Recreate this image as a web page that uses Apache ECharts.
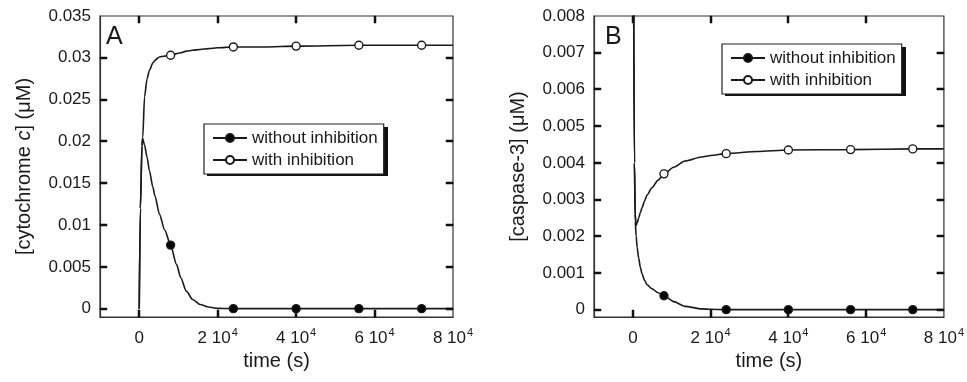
<!DOCTYPE html>
<html>
<head>
<meta charset="utf-8">
<script src="https://cdn.jsdelivr.net/npm/echarts@6/dist/echarts.min.js"></script>
<style>
html,body{margin:0;padding:0;background:#fff;}
#chart{width:967px;height:382px;}
</style>
</head>
<body>
<div id="chart"></div>
<script>
// ---- data ----
const seriesNames = ['without inhibition', 'with inhibition'];
const markerTimes = [8000, 24000, 40000, 56000, 72000];
const xTicks = [0, 20000, 40000, 60000, 80000];
const yTicksA = [0, 0.005, 0.01, 0.015, 0.02, 0.025, 0.03, 0.035];
const yTicksB = [0, 0.001, 0.002, 0.003, 0.004, 0.005, 0.006, 0.007, 0.008];

// Panel A: cytochrome c
const timeA = [0, 300, 700, 900, 1350, 2000, 2600, 3500, 4000, 5150, 6500, 8000, 9500, 10600, 12000, 13600, 15500, 17700, 20000, 24000, 32000, 40000, 56000, 72000, 80000];
const withoutA = [0, 0.012, 0.0195, 0.0203, 0.0196, 0.0181, 0.0165, 0.0145, 0.0135, 0.0113, 0.0094, 0.0076, 0.0053, 0.0037, 0.0021, 0.0011, 0.0005, 0.0002, 0.00003, 0, 0, 0, 0, 0, 0];
const withA = [0, 0.012, 0.0195, 0.0205, 0.0253, 0.0275, 0.0285, 0.0294, 0.0297, 0.0301, 0.0302, 0.0303, 0.0305, 0.0306, 0.0308, 0.0309, 0.0310, 0.0311, 0.0312, 0.0313, 0.0313, 0.0314, 0.0315, 0.0315, 0.0315];

// Panel B: caspase-3
const timeB = [200, 400, 600, 850, 1100, 1500, 1950, 2370, 3000, 3650, 4900, 6500, 8000, 10500, 13400, 17700, 20000, 24000, 32000, 40000, 56000, 72000, 80000];
const withoutB = [0.0085, 0.0040, 0.0024, 0.0020, 0.00169, 0.00140, 0.00114, 0.00097, 0.00080, 0.00068, 0.00057, 0.00046, 0.00038, 0.00022, 0.00009, 0.00002, 0.00001, 0, 0, 0, 0, 0, 0];
const withB = [0.0085, 0.0040, 0.0026, 0.0023, 0.00236, 0.00250, 0.00265, 0.00278, 0.00296, 0.00312, 0.00332, 0.00353, 0.00370, 0.00388, 0.00405, 0.00416, 0.00420, 0.00425, 0.00431, 0.00435, 0.00436, 0.00438, 0.00438];

// ---- chart ----
const FONT = 'Liberation Sans, Arial, sans-serif';
const INK = '#1a1a1a';
const X_MIN = -10000, X_MAX = 80000;

function buildData(times, vals) {
  return times.map((t, i) => {
    const item = { value: [t, vals[i]] };
    if (!markerTimes.includes(t)) item.symbol = 'none';
    return item;
  });
}

function xLabel(v) {
  if (v === 0) return '{n|0}';
  return '{n|' + (v / 10000) + ' 10}{s|4}';
}

const xRich = {
  n: { fontSize: 17, fontFamily: FONT, color: INK, verticalAlign: 'bottom', lineHeight: 20 },
  s: { fontSize: 11, fontFamily: FONT, color: INK, verticalAlign: 'top', lineHeight: 20, padding: [0, 0, 0, 1] }
};

function axesFor(gridIndex, yMin, yMax, yTicks, yName) {
  const line = { show: true, onZero: false, lineStyle: { color: '#333', width: 1.2 } };
  return {
    x: {
      type: 'value', gridIndex, min: X_MIN, max: X_MAX, position: 'bottom',
      axisLine: line, splitLine: { show: false }, axisTick: { show: false },
      axisLabel: { customValues: xTicks, formatter: xLabel, rich: xRich, margin: 10, color: INK, fontFamily: FONT, fontSize: 17 },
      name: 'time (s)', nameLocation: 'middle', nameGap: 31,
      nameTextStyle: { fontSize: 20, fontFamily: FONT, color: INK }
    },
    y: {
      type: 'value', gridIndex, min: yMin, max: yMax, position: 'left',
      axisLine: line, splitLine: { show: false }, axisTick: { show: false },
      axisLabel: { customValues: yTicks, formatter: v => String(v), margin: 9, color: INK, fontFamily: FONT, fontSize: 17 },
      name: yName, nameLocation: 'middle', nameGap: 66, nameRotate: 90,
      nameTextStyle: { fontSize: 20, fontFamily: FONT, color: INK, rich: { i: { fontStyle: 'italic', fontSize: 20, fontFamily: FONT, color: INK } } }
    }
  };
}

const axA = axesFor(0, -0.001, 0.035, yTicksA, '[cytochrome {i|c}] (μM)');
const axB = axesFor(1, -0.0002, 0.008, yTicksB, '[caspase-3] (μM)');

function lineSeries(name, times, vals, idx, filled) {
  return {
    name, type: 'line', xAxisIndex: idx, yAxisIndex: idx,
    data: buildData(times, vals),
    smooth: 0.25, smoothMonotone: 'x',
    symbol: 'circle', symbolSize: 8, showAllSymbol: true,
    lineStyle: { color: INK, width: 1.6 },
    itemStyle: { color: filled ? '#000' : '#fff', borderColor: INK, borderWidth: 1.4 },
    emphasis: { disabled: true },
    clip: true, animation: false, z: filled ? 3 : 2
  };
}

// Box + inward ticks on all four sides, placed through the axes' own scales
function frameSeries(idx, yMin, yMax, yTicks) {
  return {
    type: 'custom', xAxisIndex: idx, yAxisIndex: idx, silent: true, z: 6,
    data: [[X_MIN, yMin]],
    renderItem: function (params, api) {
      const L = 7, W = 2;
      const p0 = api.coord([X_MIN, yMax]);
      const p1 = api.coord([X_MAX, yMin]);
      const children = [{
        type: 'rect',
        shape: { x: p0[0], y: p0[1], width: p1[0] - p0[0], height: p1[1] - p0[1] },
        style: { stroke: '#333', lineWidth: 1.2, fill: 'transparent' }
      }];
      xTicks.forEach(v => {
        if (v <= X_MIN || v >= X_MAX) return;
        const x = Math.round(api.coord([v, yMin])[0]);
        children.push({ type: 'polygon', shape: { points: [[x - 1, p1[1]], [x + 1, p1[1]], [x + 1, p1[1] - L], [x - 1, p1[1] - L]] }, style: { fill: '#111', stroke: '#111', lineWidth: 0.5 } });
        children.push({ type: 'polygon', shape: { points: [[x - 1, p0[1]], [x + 1, p0[1]], [x + 1, p0[1] + L], [x - 1, p0[1] + L]] }, style: { fill: '#111', stroke: '#111', lineWidth: 0.5 } });
      });
      yTicks.forEach(v => {
        if (v <= yMin || v >= yMax) return;
        const y = Math.round(api.coord([X_MIN, v])[1]);
        children.push({ type: 'polygon', shape: { points: [[p0[0], y - 1], [p0[0] + L, y - 1], [p0[0] + L, y + 1], [p0[0], y + 1]] }, style: { fill: '#111', stroke: '#111', lineWidth: 0.5 } });
        children.push({ type: 'polygon', shape: { points: [[p1[0], y - 1], [p1[0] - L, y - 1], [p1[0] - L, y + 1], [p1[0], y + 1]] }, style: { fill: '#111', stroke: '#111', lineWidth: 0.5 } });
      });
      return { type: 'group', children };
    },
    clip: false, animation: false
  };
}

function legendAt(left, top, names) {
  return {
    data: names, orient: 'vertical', left, top,
    itemWidth: 34, itemHeight: 10, itemGap: 4,
    padding: [5, 6, 5, 8],
    backgroundColor: '#fff', borderColor: '#222', borderWidth: 1.2, borderRadius: 0,
    textStyle: { fontSize: 17, fontFamily: FONT, color: INK, lineHeight: 18 },
    selectedMode: false, z: 10
  };
}

const option = {
  backgroundColor: '#fff',
  animation: false,
  grid: [
    { left: 100, right: 514, top: 16, bottom: 65, show: false },
    { left: 594, right: 19, top: 16, bottom: 65, show: false }
  ],
  xAxis: [axA.x, axB.x],
  yAxis: [axA.y, axB.y],
  legend: [
    legendAt(204, 124, seriesNames),
    legendAt(722, 44, seriesNames)
  ],
  graphic: [
    { type: 'text', left: 106, top: 25, style: { text: 'A', fontSize: 25, fontFamily: FONT, fill: INK } },
    { type: 'text', left: 605, top: 25, style: { text: 'B', fontSize: 25, fontFamily: FONT, fill: INK } },
    // legend drop shadows
    { type: 'rect', z: 5, shape: { x: 207, y: 127, width: 181, height: 49 }, style: { fill: '#111' } },
    { type: 'rect', z: 5, shape: { x: 725, y: 47, width: 181, height: 49 }, style: { fill: '#111' } }
  ],
  series: [
    frameSeries(0, -0.001, 0.035, yTicksA),
    frameSeries(1, -0.0002, 0.008, yTicksB),
    lineSeries(seriesNames[1], timeA, withA, 0, false),
    lineSeries(seriesNames[0], timeA, withoutA, 0, true),
    lineSeries(seriesNames[1], timeB, withB, 1, false),
    lineSeries(seriesNames[0], timeB, withoutB, 1, true)
  ]
};

const chart = echarts.init(document.getElementById('chart'), null, { renderer: 'canvas' });
chart.setOption(option);
</script>
</body>
</html>
